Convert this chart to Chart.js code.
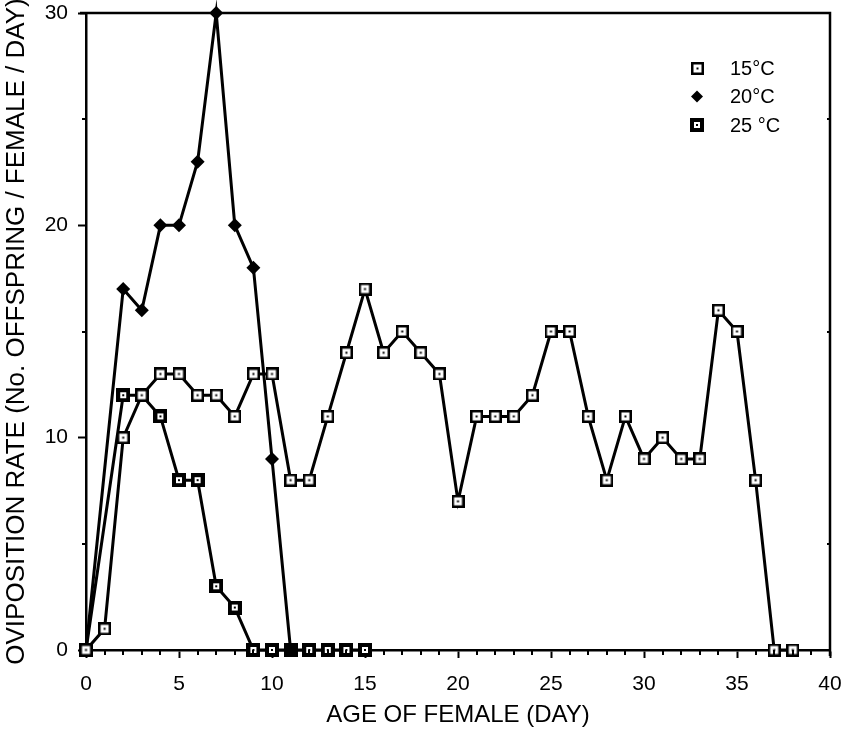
<!DOCTYPE html>
<html><head><meta charset="utf-8">
<script src="https://cdn.jsdelivr.net/npm/chart.js@4/dist/chart.umd.min.js"></script>
<style>html,body{margin:0;padding:0;background:#fff;}#wrap{width:846px;height:731px;position:relative;}</style>
</head><body><div id="wrap"><canvas id="c" width="846" height="731"></canvas></div>
<script>
// ---- data ----
const days15 = [0,1,2,3,4,5,6,7,8,9,10,11,12,13,14,15,16,17,18,19,20,21,22,23,24,25,26,27,28,29,30,31,32,33,34,35,36,37,38];
const rate15 = [0,1,10,12,13,13,12,12,11,13,13,8,8,11,14,17,14,15,14,13,7,11,11,11,12,15,15,11,8,11,9,10,9,9,16,15,8,0,0];
const days20 = [0,2,3,4,5,6,7,8,9,10,11];
const rate20 = [0,17,16,20,20,23,30,20,18,9,0];
const days25 = [0,2,3,4,5,6,7,8,9,10,11,12,13,14,15];
const rate25 = [0,12,12,11,8,8,3,2,0,0,0,0,0,0,0];
const seriesLabels = ['15\u00B0C', '20\u00B0C', '25 \u00B0C'];
const xTickValues = [0,5,10,15,20,25,30,35,40];
const yTickValues = [0,10,20,30];
const xTitle = 'AGE OF FEMALE (DAY)';
const yTitle = 'OVIPOSITION RATE (No. OFFSPRING / FEMALE / DAY)';

const FONT = '"Liberation Sans", Arial, Helvetica, sans-serif';

function makeSquare(size, border, dot) {
  const c = document.createElement('canvas');
  c.width = size; c.height = size;
  const g = c.getContext('2d');
  g.fillStyle = '#000'; g.fillRect(0, 0, size, size);
  g.fillStyle = '#fff'; g.fillRect(border, border, size - 2*border, size - 2*border);
  g.fillStyle = '#000';
  const d0 = (size - dot) / 2;
  g.fillRect(d0, d0, dot, dot);
  return c;
}
const sq15 = makeSquare(13, 2.5, 2);
const sq25 = makeSquare(14, 4, 2);

function pts(xs, ys) { return xs.map((x, i) => ({x: x, y: ys[i]})); }

const frameAndTicks = {
  id: 'frameAndTicks',
  afterDraw(chart) {
    const {ctx, chartArea: a, scales: {x, y}} = chart;
    ctx.save();
    ctx.strokeStyle = '#000';
    ctx.lineWidth = 2.5;
    ctx.beginPath();
    ctx.moveTo(a.left - 6, a.top);
    ctx.lineTo(a.right, a.top);
    ctx.lineTo(a.right, a.bottom + 6);
    ctx.stroke();
    ctx.lineWidth = 2;
    ctx.beginPath();
    for (let d = x.min; d <= x.max; d++) {
      if (d % 5 === 0) continue;
      const px = Math.round(x.getPixelForValue(d));
      ctx.moveTo(px, a.bottom);
      ctx.lineTo(px, a.bottom + 5);
    }
    for (let v = 5; v < y.max; v += 10) {
      const py = Math.round(y.getPixelForValue(v));
      ctx.moveTo(a.left - 4, py);
      ctx.lineTo(a.left, py);
      ctx.moveTo(a.right, py);
      ctx.lineTo(a.right - 3, py);
    }
    ctx.stroke();
    // legend
    const rows = [68, 96.5, 125];
    ctx.font = '20px ' + FONT;
    ctx.fillStyle = '#000';
    ctx.textBaseline = 'middle';
    ctx.textAlign = 'left';
    chart.data.datasets.forEach((ds, i) => {
      const cy = rows[i];
      const cx = 697;
      const st = ds.pointStyle;
      if (st instanceof HTMLCanvasElement) {
        ctx.drawImage(st, Math.round(cx - st.width / 2), Math.round(cy - st.height / 2));
      } else {
        ctx.beginPath();
        ctx.moveTo(cx, cy - 6); ctx.lineTo(cx + 6, cy); ctx.lineTo(cx, cy + 6); ctx.lineTo(cx - 6, cy);
        ctx.closePath(); ctx.fill();
      }
      ctx.fillText(ds.label, 730, cy + 1);
    });
    ctx.restore();
  }
};

new Chart(document.getElementById('c'), {
  type: 'line',
  data: {
    datasets: [
      { label: seriesLabels[0], data: pts(days15, rate15), pointStyle: sq15 },
      { label: seriesLabels[1], data: pts(days20, rate20), pointStyle: 'rectRot', pointRadius: 7, pointBackgroundColor: '#000', pointBorderWidth: 0 },
      { label: seriesLabels[2], data: pts(days25, rate25), pointStyle: sq25 }
    ].map(d => Object.assign({
      borderColor: '#000', borderWidth: 3, backgroundColor: '#000', fill: false,
      tension: 0, clip: false, pointRadius: 6, pointHoverRadius: 6
    }, d))
  },
  options: {
    responsive: false, animation: false,
    layout: { padding: { top: 13, right: 16, left: 0, bottom: 0 } },
    plugins: { legend: { display: false }, tooltip: { enabled: false } },
    scales: {
      x: {
        type: 'linear', min: 0, max: 40,
        afterBuildTicks: s => { s.ticks = xTickValues.map(v => ({value: v})); },
        afterFit: s => { s.height = 81; s.paddingLeft = 0; s.paddingRight = 0; },
        border: { color: '#000', width: 2.5 },
        grid: { drawOnChartArea: false, drawTicks: true, tickLength: 8, tickColor: '#000', tickWidth: 2 },
        ticks: { color: '#000', font: { family: FONT, size: 21 }, padding: 14, maxRotation: 0 },
        title: { display: true, text: xTitle, color: '#000', font: { family: FONT, size: 24 }, padding: { top: 0, bottom: 1 } }
      },
      y: {
        type: 'linear', min: 0, max: 30,
        afterBuildTicks: s => { s.ticks = yTickValues.map(v => ({value: v})); },
        afterFit: s => { s.width = 86; s.paddingTop = 0; s.paddingBottom = 0; },
        border: { color: '#000', width: 2.5 },
        grid: { drawOnChartArea: false, drawTicks: true, tickLength: 8, tickColor: '#000', tickWidth: 2 },
        ticks: { color: '#000', font: { family: FONT, size: 21 }, padding: 10 },
        title: { display: true, text: yTitle, color: '#000', font: { family: FONT, size: 26 }, padding: { top: 1, bottom: 0 } }
      }
    }
  },
  plugins: [frameAndTicks]
});
</script></body></html>
